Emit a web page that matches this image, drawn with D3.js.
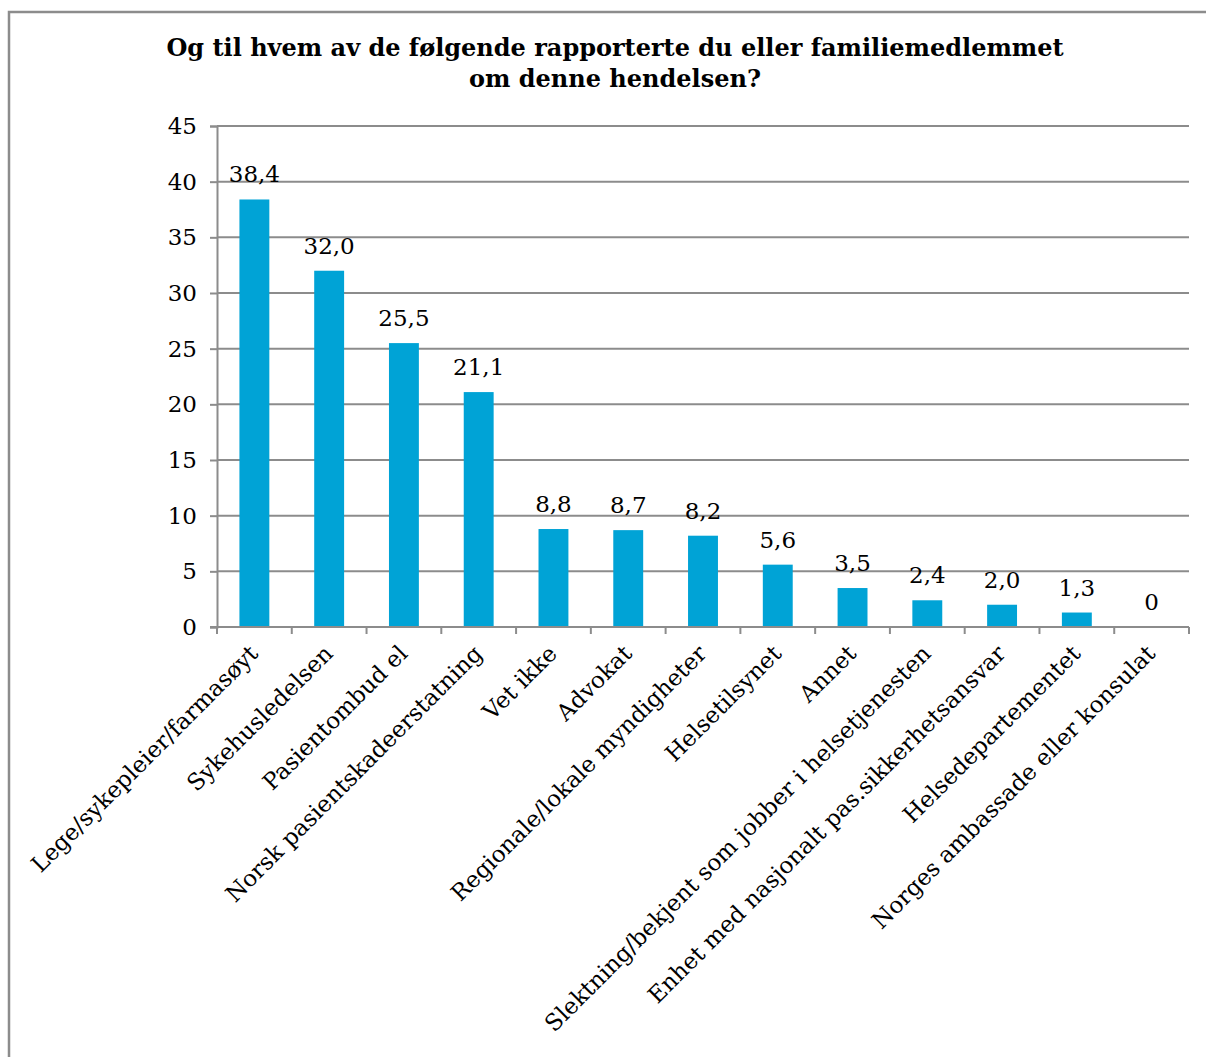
<!DOCTYPE html>
<html>
<head>
<meta charset="utf-8">
<script src="https://cdn.jsdelivr.net/npm/d3@7"></script>
<style>
  html, body { margin: 0; padding: 0; background: #fff; }
  svg { display: block; }
</style>
</head>
<body>
<script>
// Who the incident was reported to (percent of respondents)
const categories = [
  "Lege/sykepleier/farmasøyt",
  "Sykehusledelsen",
  "Pasientombud el",
  "Norsk pasientskadeerstatning",
  "Vet ikke",
  "Advokat",
  "Regionale/lokale myndigheter",
  "Helsetilsynet",
  "Annet",
  "Slektning/bekjent som jobber i helsetjenesten",
  "Enhet med nasjonalt pas.sikkerhetsansvar",
  "Helsedepartementet",
  "Norges ambassade eller konsulat"
];
const values = [38.4, 32.0, 25.5, 21.1, 8.8, 8.7, 8.2, 5.6, 3.5, 2.4, 2.0, 1.3, 0];
const yTicks = [0, 5, 10, 15, 20, 25, 30, 35, 40, 45];
const titleLines = [
  "Og til hvem av de følgende rapporterte du eller familiemedlemmet",
  "om denne hendelsen?"
];

const W = 1206, H = 1057;
const serif = "'DejaVu Serif', 'Liberation Serif', serif";
const grey = "#8c8c8c";
const barColor = "#00a3d6";

const svg = d3.select("body").append("svg")
  .attr("width", W).attr("height", H);

// outer chart frame (runs past the right and bottom edges)
svg.append("rect")
  .attr("x", 9).attr("y", 12)
  .attr("width", W + 20).attr("height", H + 20)
  .attr("fill", "#fff")
  .attr("stroke", grey).attr("stroke-width", 2.5);

// title
svg.append("g").selectAll("text").data(titleLines).join("text")
  .attr("x", 615).attr("y", (d, i) => 56 + i * 31)
  .attr("text-anchor", "middle")
  .attr("font-family", serif)
  .attr("font-weight", "bold")
  .attr("font-size", 24)
  .attr("fill", "#000")
  .text(d => d);

const plot = { left: 217, right: 1189, top: 126, bottom: 627 };

const x = d3.scaleBand()
  .domain(categories)
  .range([plot.left, plot.right])
  .paddingInner(0.6).paddingOuter(0.3);

const y = d3.scaleLinear().domain([0, 45]).range([plot.bottom, plot.top]);

// horizontal gridlines + y axis
const yAxis = svg.append("g")
  .attr("transform", `translate(${plot.left},0)`)
  .call(d3.axisLeft(y).tickValues(yTicks).tickSize(7).tickPadding(13).tickFormat(d3.format("d")));
yAxis.select(".domain").attr("stroke", grey).attr("stroke-width", 2);
yAxis.selectAll(".tick line").attr("stroke", grey).attr("stroke-width", 2);
yAxis.selectAll(".tick text")
  .attr("font-family", serif).attr("font-size", 23).attr("fill", "#000");

svg.append("g").selectAll("line").data(yTicks.filter(t => t > 0)).join("line")
  .attr("x1", plot.left).attr("x2", plot.right)
  .attr("y1", d => y(d)).attr("y2", d => y(d))
  .attr("stroke", grey).attr("stroke-width", 2);

// bars
svg.append("g").selectAll("rect").data(values).join("rect")
  .attr("x", (d, i) => x(categories[i]))
  .attr("y", d => y(d))
  .attr("width", x.bandwidth())
  .attr("height", d => y(0) - y(d))
  .attr("fill", barColor);

// x axis line with ticks at category boundaries
const xAxisG = svg.append("g");
xAxisG.append("line")
  .attr("x1", plot.left - 7).attr("x2", plot.right)
  .attr("y1", plot.bottom).attr("y2", plot.bottom)
  .attr("stroke", grey).attr("stroke-width", 2);
xAxisG.selectAll("line.tick").data(d3.range(categories.length + 1)).join("line")
  .attr("class", "tick")
  .attr("x1", i => plot.left + i * (plot.right - plot.left) / categories.length)
  .attr("x2", i => plot.left + i * (plot.right - plot.left) / categories.length)
  .attr("y1", plot.bottom).attr("y2", plot.bottom + 7)
  .attr("stroke", grey).attr("stroke-width", 2);

// value labels
const fmt = v => v === 0 ? "0" : v.toFixed(1).replace(".", ",");
svg.append("g").selectAll("text").data(values).join("text")
  .attr("x", (d, i) => x(categories[i]) + x.bandwidth() / 2)
  .attr("y", d => y(d) - 17)
  .attr("text-anchor", "middle")
  .attr("font-family", serif).attr("font-size", 23).attr("fill", "#000")
  .text(fmt);

// rotated category labels
svg.append("g").selectAll("text").data(categories).join("text")
  .attr("transform", d => `translate(${x(d) + x.bandwidth() / 2 + 5},${plot.bottom + 28}) rotate(-45)`)
  .attr("text-anchor", "end")
  .attr("font-family", serif).attr("font-size", 23).attr("fill", "#000")
  .text(d => d);
</script>
</body>
</html>
